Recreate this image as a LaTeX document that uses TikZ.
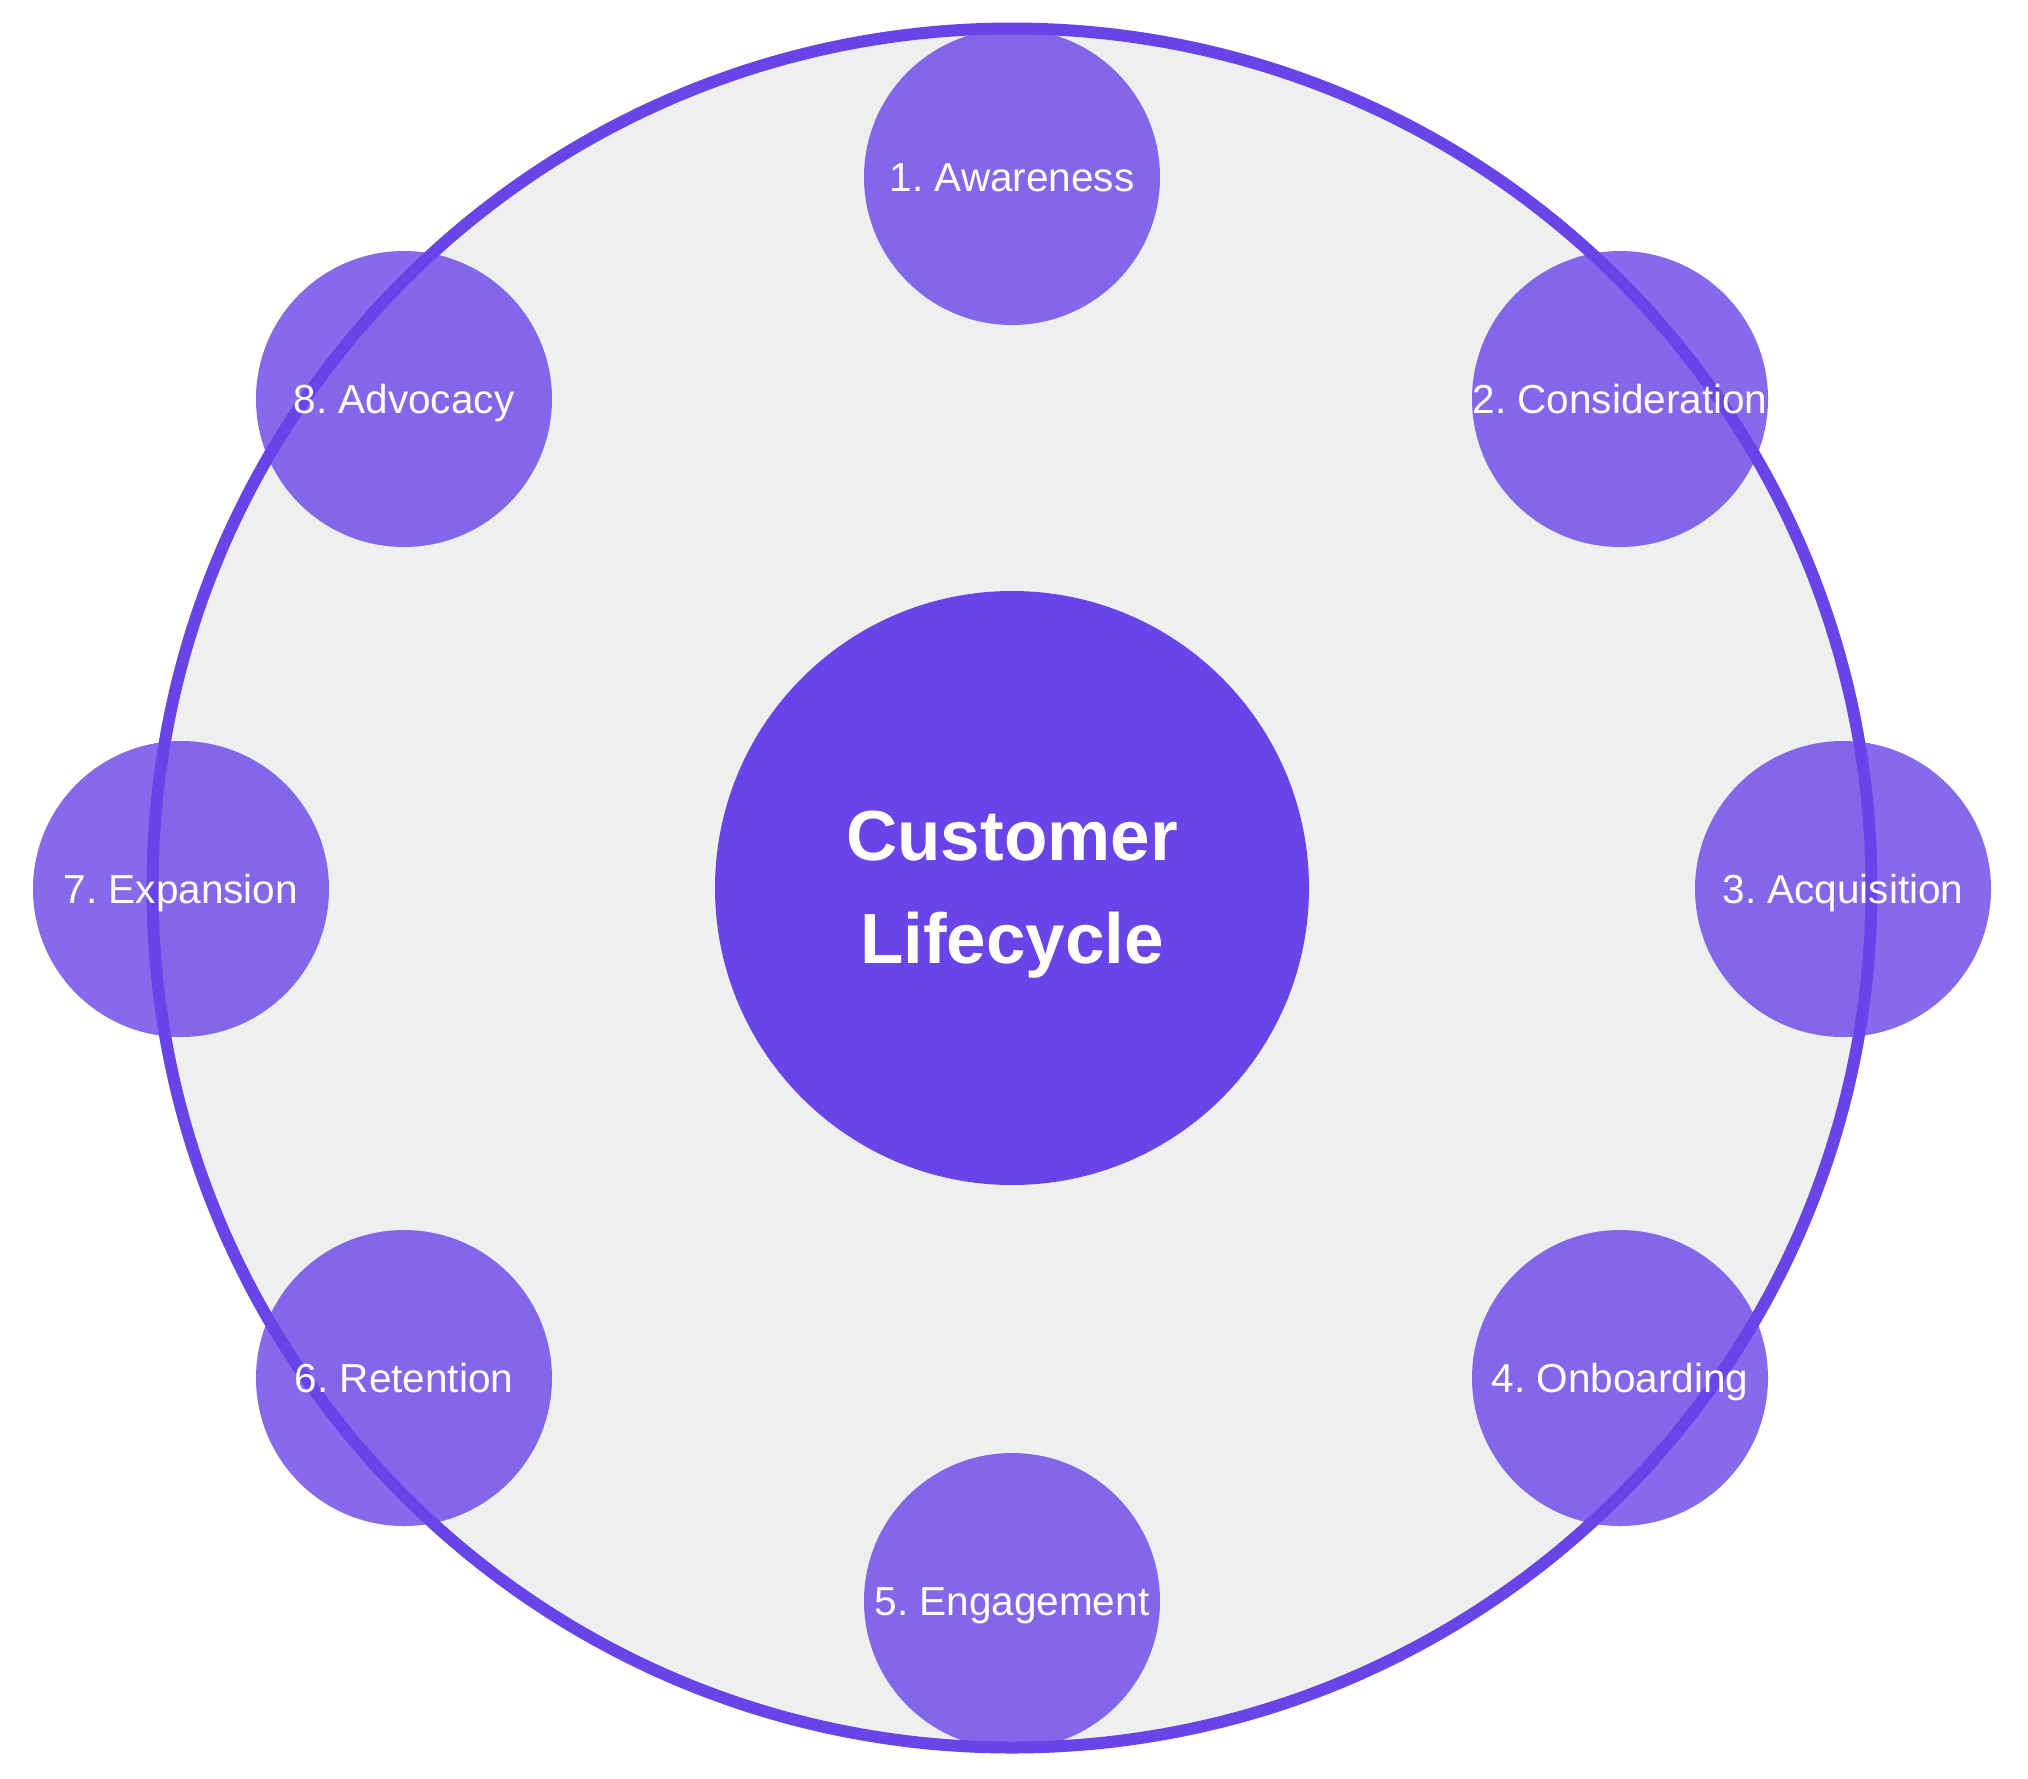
\documentclass[tikz,border=0pt]{standalone}
\usepackage{fontspec}
\setmainfont{Liberation Sans}
\frenchspacing
\definecolor{ringc}{HTML}{6944E8}
\definecolor{panelc}{HTML}{EEF0EF}
\begin{document}
\begin{tikzpicture}[x=0.5pt,y=-0.5pt,
  ringstyle/.style={circle, draw=ringc, line width=6pt, fill=panelc, minimum size=859.5pt, inner sep=0pt},
  hubstyle/.style={circle, fill=ringc, minimum size=297pt, inner sep=0pt},
  stage/.style={circle, fill=ringc, fill opacity=0.8, minimum size=148pt, inner sep=0pt},
  stagetext/.style={text=white, text opacity=1, font=\fontsize{20.25pt}{24pt}\selectfont\frenchspacing, inner sep=0pt, text height=14.5pt, text depth=0pt},
  hubtext/.style={text=white, font=\fontsize{35.5pt}{42pt}\selectfont\bfseries, inner sep=0pt, anchor=base}]
\fill[white] (0,0) rectangle (2028,1778);
\useasboundingbox (0,0) rectangle (2028,1778);
\node[ringstyle] (ring) at (1012,888) {};
\node[hubstyle] (hub) at (1012,888) {};
\node[hubtext] (hubtop) at ([yshift=14pt]hub.center) {Customer};
\node[hubtext] (hubbot) at ([yshift=-37.5pt]hub.center) {Lifecycle};
\node[stage] (s1) at (1012,177) {};
\node[stage] (s2) at (1620,399) {};
\node[stage] (s3) at (1843,889) {};
\node[stage] (s4) at (1620,1378) {};
\node[stage] (s5) at (1012,1601) {};
\node[stage] (s6) at (404,1378) {};
\node[stage] (s7) at (181,889) {};
\node[stage] (s8) at (404,399) {};
\node[stagetext] (t1) at (s1) {1. Awareness};
\node[stagetext] (t2) at (s2) {2. Consideration};
\node[stagetext] (t3) at (s3) {3. Acquisition};
\node[stagetext] (t4) at (s4) {4. Onboarding};
\node[stagetext] (t5) at (s5) {5. Engagement};
\node[stagetext] (t6) at (s6) {6. Retention};
\node[stagetext] (t7) at (s7) {7. Expansion};
\node[stagetext] (t8) at (s8) {8. Advocacy};
\end{tikzpicture}
\end{document}
